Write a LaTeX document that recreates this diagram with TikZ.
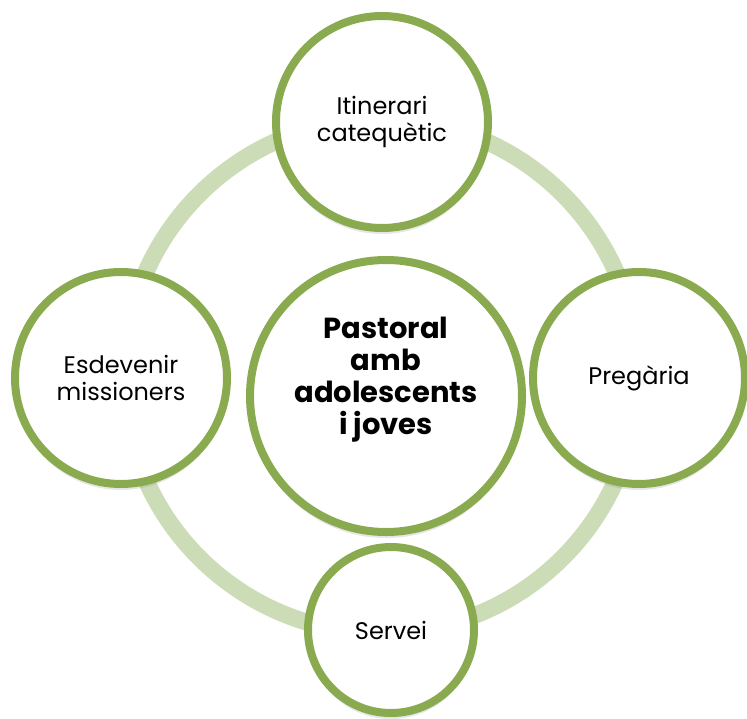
\documentclass[tikz,border=0pt]{standalone}
\usepackage{fontspec}
\setmainfont{Poppins}
\usetikzlibrary{shadows}
\definecolor{verd}{RGB}{138,170,80}
\definecolor{verdclar}{RGB}{204,220,182}

\begin{document}
\begin{tikzpicture}[x=1pt,y=-1pt,
   cercle/.style={circle,draw=verd,line width=8pt,fill=white,align=center,
        minimum size=212pt,font=\fontsize{24}{27}\selectfont,
        drop shadow={opacity=0.2,shadow xshift=0pt,shadow yshift=-6pt}}]
\useasboundingbox (0,0) rectangle (747,718);
% anella de fons
\draw[verdclar,line width=17pt] (381,376) circle (257);
\node[cercle] (itin) at (382,122) {Itinerari\\catequètic};
\node[cercle] (preg) at (639,378) {Pregària};
\node[cercle,minimum size=166pt] (serv) at (391,630) {Servei};
\node[cercle] (esdev) at (121,378) {Esdevenir\\missioners};
\node[cercle,minimum size=272pt,font=\bfseries\fontsize{29}{32}\selectfont] (centre) at (386,396) {Pastoral\\amb\\adolescents\\i joves\\[8pt]};
\end{tikzpicture}
\end{document}
